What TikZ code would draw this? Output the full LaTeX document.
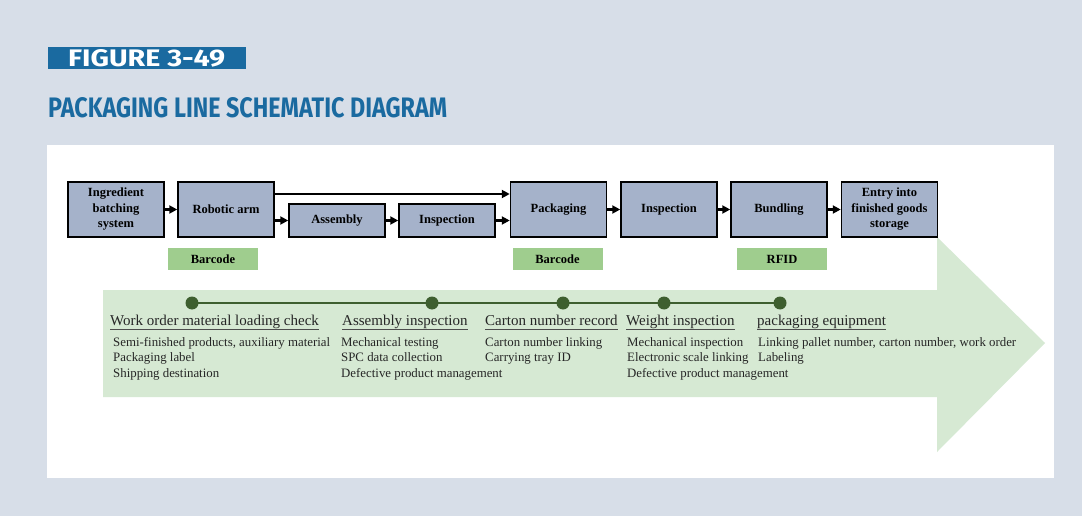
\documentclass[tikz,border=0pt]{standalone}
\usepackage{fontspec}
\setmainfont{Liberation Serif}
\newfontfamily\headfont{Fira Sans}
\usetikzlibrary{arrows.meta}
\definecolor{bgc}{HTML}{D7DEE8}
\definecolor{titleblue}{HTML}{1A6AA0}
\definecolor{boxfill}{HTML}{A5B2CA}
\definecolor{tagfill}{HTML}{9FCD8E}
\definecolor{arrowfill}{HTML}{D6E9D3}
\definecolor{dotgreen}{HTML}{3E5F2F}
\tikzset{
  proc/.style={draw=black, line width=1.5pt, fill=boxfill, align=center,
    minimum width=96pt, minimum height=55pt, inner sep=1pt,
    font=\bfseries\fontsize{12.5}{15.5}\selectfont},
  procsmall/.style={proc, minimum height=33pt},
  tag/.style={fill=tagfill, minimum width=90pt, minimum height=22pt, inner sep=0pt,
    font=\bfseries\fontsize{12.5}{15}\selectfont},
  flow/.style={line width=2.2pt, -{Triangle[length=8pt,width=8pt]}},
  tl/.style={dotgreen, line width=2.6pt},
  dot/.style={circle, fill=dotgreen, minimum size=13pt, inner sep=0pt},
  head/.style={anchor=base west, inner sep=0pt, font=\fontsize{15}{17}\selectfont, text=black!85},
  uline/.style={black!70, line width=0.8pt},
  body/.style={anchor=base west, inner sep=0pt, align=left, font=\fontsize{12.85}{15.5}\selectfont, text=black!85},
}
\begin{document}
\begin{tikzpicture}[x=1pt,y=-1pt]
\fill[bgc] (0,0) rectangle (1082,516);
\useasboundingbox (0,0) rectangle (1082,516);
\fill[white] (47,145) rectangle (1054,478);
% title
\fill[titleblue] (48,47) rectangle (246,69);
\node[anchor=south west, inner sep=0pt, text=white] (fig) at (68,67)
  {\resizebox{157pt}{17pt}{\headfont\bfseries FIGURE 3-49}};
\node[anchor=south west, inner sep=0pt, text=titleblue] (title) at (48,118)
  {\resizebox{399pt}{20pt}{\headfont\bfseries PACKAGING LINE SCHEMATIC DIAGRAM}};
% big arrow
\fill[arrowfill] (103,290) -- (937,290) -- (937,237) -- (1045,343) -- (937,452) -- (937,397) -- (103,397) -- cycle;
% process boxes
\node[proc] (ing) at (116,209.5) {Ingredient\\batching\\system};
\node[proc] (rob) at (226,209.5) {Robotic arm};
\node[procsmall] (asm) at (337,220.5) {Assembly};
\node[procsmall] (ins1) at (447,220.5) {Inspection};
\node[proc] (pack) at (558.5,209.5) {Packaging};
\node[proc] (ins2) at (669,209.5) {Inspection};
\node[proc] (bund) at (779,209.5) {Bundling};
\node[proc] (entry) at (889.5,209.5) {Entry into\\finished goods\\storage};
% connectors
\draw[flow] (ing.east) -- (rob.west);
\draw[flow] ([yshift=15.5pt]rob.east) -- ([yshift=15.5pt]pack.west);
\draw[flow] (rob.east |- asm.west) -- (asm.west);
\draw[flow] (asm.east) -- (ins1.west);
\draw[flow] (ins1.east) -- (pack.west |- ins1.east);
\draw[flow] (pack.east) -- (ins2.west);
\draw[flow] (ins2.east) -- (bund.west);
\draw[flow] (bund.east) -- (entry.west);
% tags
\node[tag] (t1) at (213,259) {Barcode};
\node[tag] (t2) at (557.5,259) {Barcode};
\node[tag] (t3) at (782,259) {RFID};
% timeline
\coordinate (c1) at (192,303);
\coordinate (c2) at (432,303);
\coordinate (c3) at (563,303);
\coordinate (c4) at (664,303);
\coordinate (c5) at (780,303);
\draw[tl] (c1) -- (c5);
\node[dot] (d1) at (c1) {};
\node[dot] (d2) at (c2) {};
\node[dot] (d3) at (c3) {};
\node[dot] (d4) at (c4) {};
\node[dot] (d5) at (c5) {};
% headings
\node[head] (h1) at (110,325) {Work order material loading check};
\node[head] (h2) at (342,325) {Assembly inspection};
\node[head] (h3) at (485,325) {Carton number record};
\node[head] (h4) at (626,325) {Weight inspection};
\node[head] (h5) at (757,325) {packaging equipment};
\foreach \h in {h1,h2,h3,h4,h5}
  \draw[uline] ([yshift=-4.5pt]\h.base west) -- ([yshift=-4.5pt]\h.base east);
% body text (base anchor = last line baseline)
\node[body] (b1) at (113,377) {Semi-finished products, auxiliary material\\Packaging label\\Shipping destination};
\node[body] (b2) at (341,377) {Mechanical testing\\SPC data collection\\Defective product management};
\node[body] (b3) at (485,361.5) {Carton number linking\\Carrying tray ID};
\node[body] (b4) at (627,377) {Mechanical inspection\\Electronic scale linking\\Defective product management};
\node[body] (b5) at (758,361.5) {Linking pallet number, carton number, work order\\Labeling};
\end{tikzpicture}
\end{document}
